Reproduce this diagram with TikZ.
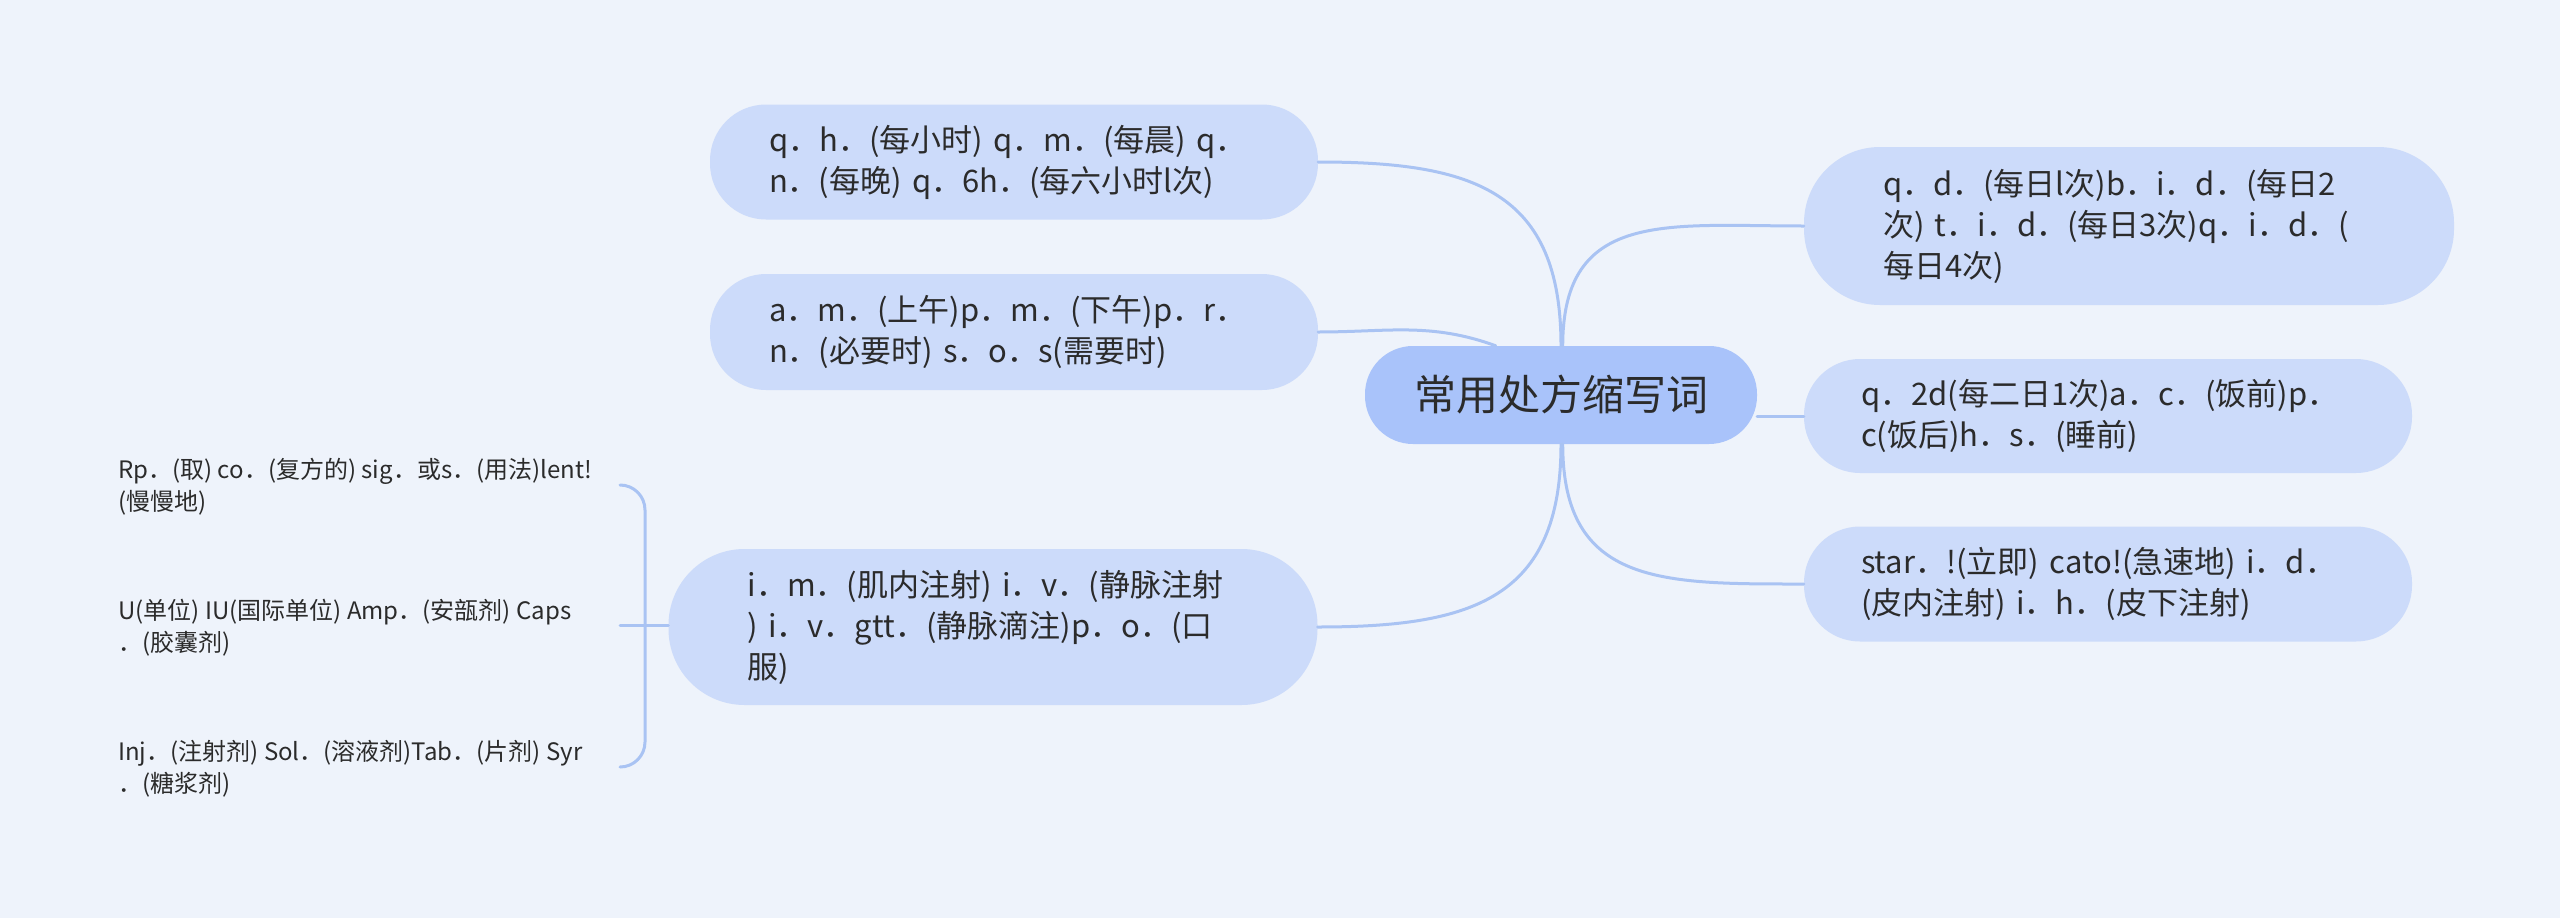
\documentclass[tikz,border=0pt]{standalone}
\usepackage{fontspec}
\setmainfont{Noto Sans CJK SC}
\definecolor{bgc}{HTML}{EEF3FB}
\definecolor{topicc}{HTML}{CCDBFA}
\definecolor{rootc}{HTML}{A9C3FA}
\definecolor{linec}{HTML}{A9C3F3}
\definecolor{textc}{HTML}{2B2B2B}
\begin{document}
\begin{tikzpicture}[x=1pt, y=-1pt, line join=round, line cap=round,
	root/.style={fill=rootc, text=textc, rounded corners=48, minimum width=392, minimum height=98, font=\fontsize{42}{50}\selectfont},
	topic/.style={fill=topicc, text=textc, align=left, inner ysep=0pt, font=\fontsize{31}{41}\selectfont},
	leaf/.style={text=textc, align=left, anchor=west, inner sep=0pt, font=\fontsize{24}{32}\selectfont},
	conn/.style={draw=linec, line width=3}]
	\fill[bgc] (0,0) rectangle (2560,918);
	\useasboundingbox (0,0) rectangle (2560,918);
	% Chủ đề chính
	\node[root] (root) at (1561,395) {常用处方缩写词};
	% Nhánh trái
	\node[topic, rounded corners=56, inner xsep=59, text width=490, minimum height=115] (qh) at (1014,162) {q．h．(每小时) q．m．(每晨) q．\\n．(每晚) q．6h．(每六小时l次)};
	\node[topic, rounded corners=56, inner xsep=59, text width=490, minimum height=116] (am) at (1014,332) {a．m．(上午)p．m．(下午)p．r．\\n．(必要时) s．o．s(需要时)};
	\node[topic, rounded corners=76, inner xsep=79, text width=491, minimum height=156] (im) at (993,627) {i．m．(肌内注射) i．v．(静脉注射\\) i．v．gtt．(静脉滴注)p．o．(口\\服)};
	% Nhánh phải
	\node[topic, rounded corners=76, inner xsep=79, text width=492, minimum height=158] (qd) at (2129,226) {q．d．(每日l次)b．i．d．(每日2\\次) t．i．d．(每日3次)q．i．d．(\\每日4次)};
	\node[topic, rounded corners=56, inner xsep=57, text width=494, minimum height=114] (qtd) at (2108,416) {q．2d(每二日1次)a．c．(饭前)p．\\c(饭后)h．s．(睡前)};
	\node[topic, rounded corners=56, inner xsep=57, text width=494, minimum height=115] (st) at (2108,584) {star．!(立即) cato!(急速地) i．d．\\(皮内注射) i．h．(皮下注射)};
	% Lá
	\node[leaf] (rp) at (118,487) {Rp．(取) co．(复方的) sig．或s．(用法)lent!\\(慢慢地)};
	\node[leaf] (un) at (118,628) {U(单位) IU(国际单位) Amp．(安瓿剂) Caps\\．(胶囊剂)};
	\node[leaf] (inj) at (118,769) {Inj．(注射剂) Sol．(溶液剂)Tab．(片剂) Syr\\．(糖浆剂)};
	% Đường nối
	\draw[conn] (root.north) to[out=90, in=0, looseness=1.3] (qh.east);
	\draw[conn] (root.143) to[out=160, in=0] (am.east);
	\draw[conn] (root.south) to[out=-90, in=0, looseness=1.3] (im.east);
	\draw[conn] (root.88) to[out=90, in=180, looseness=1.3] (qd.west);
	\draw[conn] (qtd.west) -- (qtd.west -| root.east);
	\draw[conn] (root.272) to[out=-90, in=180, looseness=1.3] (st.west);
	% Ngoặc
	\coordinate (btop) at (620,485);
	\coordinate (bbot) at (620,767);
	\coordinate (bmid) at (620,625);
	\draw[conn] (btop) to[out=0, in=90] ++(25,25) -- ++(0,232) to[out=-90, in=0] (bbot);
	\draw[conn] (bmid) -- (bmid -| im.west);
\end{tikzpicture}
\end{document}
